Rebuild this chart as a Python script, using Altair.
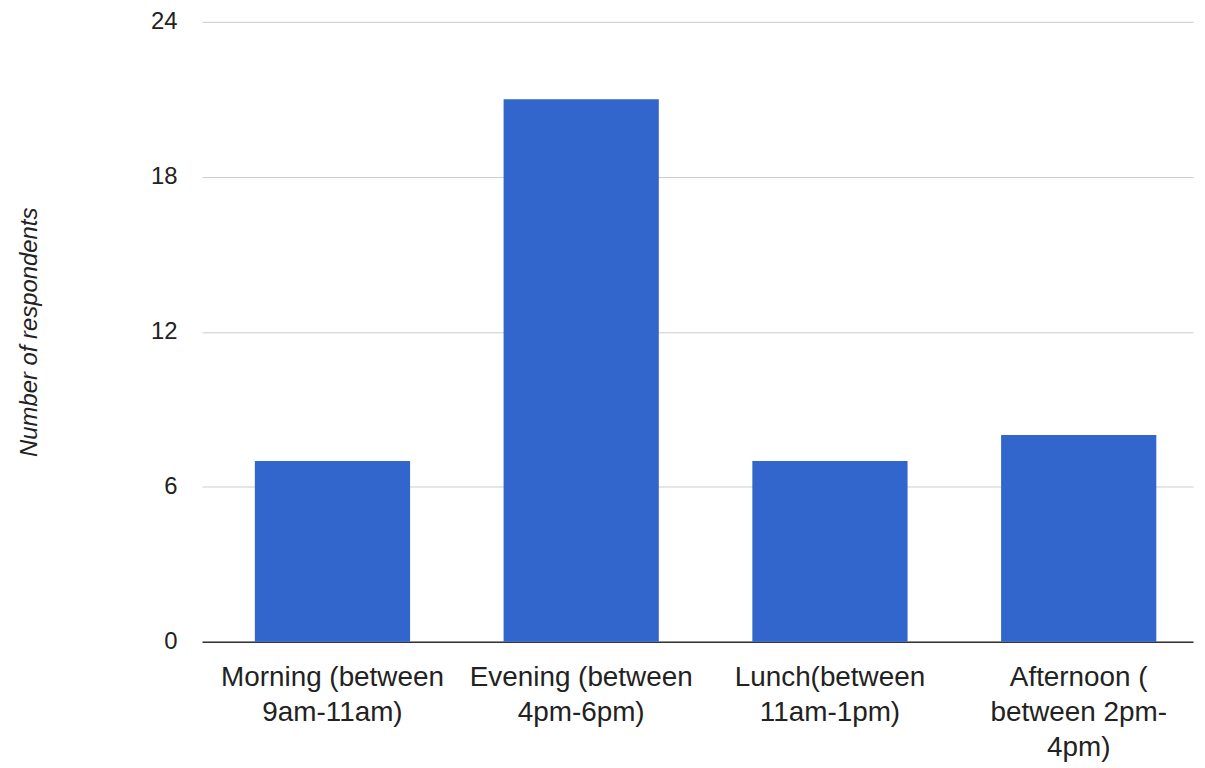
import altair as alt
import pandas as pd

categories = [
    "Morning (between|9am-11am)",
    "Evening (between|4pm-6pm)",
    "Lunch(between|11am-1pm)",
    "Afternoon (|between 2pm-|4pm)",
]
respondents = [7, 21, 7, 8]
y_ticks = [0, 6, 12, 18, 24]

df = pd.DataFrame({"slot": categories, "count": respondents})

FONT = "Liberation Sans"

chart = (
    alt.Chart(df)
    .mark_bar(color="#3366CC")
    .encode(
        x=alt.X(
            "slot:N",
            sort=categories,
            title=None,
            scale=alt.Scale(paddingInner=0.376, paddingOuter=0.18, align=0.59),
            axis=alt.Axis(
                labelAngle=0,
                labelExpr="split(datum.label, '|')",
                labelFont=FONT,
                labelFontSize=28,
                labelColor="#222222",
                labelLineHeight=35,
                labelPadding=22,
                labelLimit=400,
                ticks=False,
                domainColor="#333333",
                domainWidth=1.5,
                grid=False,
            ),
        ),
        y=alt.Y(
            "count:Q",
            title="Number of respondents",
            scale=alt.Scale(domain=[0, 24], nice=False),
            axis=alt.Axis(
                values=y_ticks,
                labelFont=FONT,
                labelFontSize=24,
                labelColor="#222222",
                labelPadding=25,
                ticks=False,
                domain=False,
                gridColor="#cccccc",
                gridWidth=1,
                titleFont=FONT,
                titleFontSize=24,
                titleFontStyle="italic",
                titleFontWeight="normal",
                titleColor="#222222",
                titlePadding=110,
            ),
        ),
    )
    .properties(
        width=996,
        height=623,
        autosize=alt.AutoSizeParams(type="none"),
        padding={"left": 195, "top": 12, "right": 4, "bottom": 120},
    )
    .configure_view(stroke=None)
)

chart.save("out.html", embed_options={"renderer": "svg", "actions": False})
